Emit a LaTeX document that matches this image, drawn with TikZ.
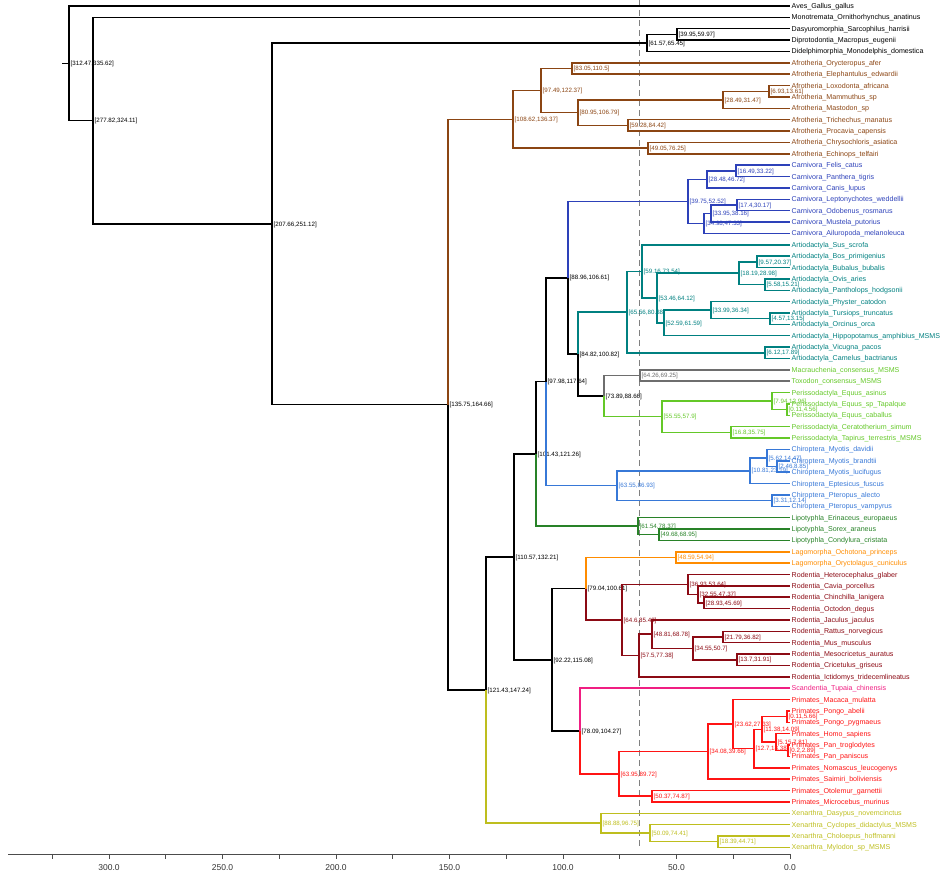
\documentclass[tikz,border=0pt]{standalone}
\usepackage{fontspec}
\setmainfont{Liberation Sans}
\usepackage{xcolor}
\usepackage{tikz}

\definecolor{afro}{RGB}{139,69,19}
\definecolor{carn}{RGB}{45,65,185}
\definecolor{artio}{RGB}{0,128,128}
\definecolor{meri}{RGB}{110,110,110}
\definecolor{peri}{RGB}{100,200,40}
\definecolor{chiro}{RGB}{55,120,215}
\definecolor{lipo}{RGB}{40,130,40}
\definecolor{lago}{RGB}{255,140,0}
\definecolor{rode}{RGB}{140,10,20}
\definecolor{scan}{RGB}{240,30,130}
\definecolor{prim}{RGB}{255,20,20}
\definecolor{xena}{RGB}{190,190,30}

\tikzset{
  branch/.style={line width=1.5pt},
  tiplabel/.style={anchor=west, inner sep=1.5pt, text height=5pt, text depth=0pt,
    font=\fontsize{7.1}{8}\selectfont},
  agelabel/.style={anchor=west, inner sep=1.5pt, text height=4.4pt, text depth=0pt,
    font=\fontsize{6.2}{7}\selectfont},
}

\begin{document}
\begin{tikzpicture}[x=1pt, y=-11.37pt]
\useasboundingbox (0,-0.5277) rectangle (946,76.5215);

% K-Pg line
\draw[gray, line width=0.9pt, dash pattern=on 6pt off 4pt] (639,-0.5) -- (639,74.2);

% tips
\node[tiplabel] (gallus) at (790,0) {Aves\_Gallus\_gallus};
\node[tiplabel] (ornitho) at (790,1) {Monotremata\_Ornithorhynchus\_anatinus};
\node[tiplabel] (sarco) at (790,2) {Dasyuromorphia\_Sarcophilus\_harrisii};
\node[tiplabel] (macropus) at (790,3) {Diprotodontia\_Macropus\_eugenii};
\node[tiplabel] (monodelphis) at (790,4) {Didelphimorphia\_Monodelphis\_domestica};
\node[tiplabel, text=afro] (orycteropus) at (790,5) {Afrotheria\_Orycteropus\_afer};
\node[tiplabel, text=afro] (elephantulus) at (790,6) {Afrotheria\_Elephantulus\_edwardii};
\node[tiplabel, text=afro] (loxodonta) at (790,7) {Afrotheria\_Loxodonta\_africana};
\node[tiplabel, text=afro] (mammuthus) at (790,8) {Afrotheria\_Mammuthus\_sp};
\node[tiplabel, text=afro] (mastodon) at (790,9) {Afrotheria\_Mastodon\_sp};
\node[tiplabel, text=afro] (trichechus) at (790,10) {Afrotheria\_Trichechus\_manatus};
\node[tiplabel, text=afro] (procavia) at (790,11) {Afrotheria\_Procavia\_capensis};
\node[tiplabel, text=afro] (chrysochloris) at (790,12) {Afrotheria\_Chrysochloris\_asiatica};
\node[tiplabel, text=afro] (echinops) at (790,13) {Afrotheria\_Echinops\_telfairi};
\node[tiplabel, text=carn] (felis) at (790,14) {Carnivora\_Felis\_catus};
\node[tiplabel, text=carn] (panthera) at (790,15) {Carnivora\_Panthera\_tigris};
\node[tiplabel, text=carn] (canis) at (790,16) {Carnivora\_Canis\_lupus};
\node[tiplabel, text=carn] (leptonychotes) at (790,17) {Carnivora\_Leptonychotes\_weddellii};
\node[tiplabel, text=carn] (odobenus) at (790,18) {Carnivora\_Odobenus\_rosmarus};
\node[tiplabel, text=carn] (mustela) at (790,19) {Carnivora\_Mustela\_putorius};
\node[tiplabel, text=carn] (ailuropoda) at (790,20) {Carnivora\_Ailuropoda\_melanoleuca};
\node[tiplabel, text=artio] (sus) at (790,21) {Artiodactyla\_Sus\_scrofa};
\node[tiplabel, text=artio] (bos) at (790,22) {Artiodactyla\_Bos\_primigenius};
\node[tiplabel, text=artio] (bubalus) at (790,23) {Artiodactyla\_Bubalus\_bubalis};
\node[tiplabel, text=artio] (ovis) at (790,24) {Artiodactyla\_Ovis\_aries};
\node[tiplabel, text=artio] (pantholops) at (790,25) {Artiodactyla\_Pantholops\_hodgsonii};
\node[tiplabel, text=artio] (physeter) at (790,26) {Artiodactyla\_Physter\_catodon};
\node[tiplabel, text=artio] (tursiops) at (790,27) {Artiodactyla\_Tursiops\_truncatus};
\node[tiplabel, text=artio] (orcinus) at (790,28) {Artiodactyla\_Orcinus\_orca};
\node[tiplabel, text=artio] (hippo) at (790,29) {Artiodactyla\_Hippopotamus\_amphibius\_MSMS};
\node[tiplabel, text=artio] (vicugna) at (790,30) {Artiodactyla\_Vicugna\_pacos};
\node[tiplabel, text=artio] (camelus) at (790,31) {Artiodactyla\_Camelus\_bactrianus};
\node[tiplabel, text=peri] (macrauchenia) at (790,32) {Macrauchenia\_consensus\_MSMS};
\node[tiplabel, text=peri] (toxodon) at (790,33) {Toxodon\_consensus\_MSMS};
\node[tiplabel, text=peri] (asinus) at (790,34) {Perissodactyla\_Equus\_asinus};
\node[tiplabel, text=peri] (tapalque) at (790,35) {Perissodactyla\_Equus\_sp\_Tapalque};
\node[tiplabel, text=peri] (caballus) at (790,36) {Perissodactyla\_Equus\_caballus};
\node[tiplabel, text=peri] (ceratotherium) at (790,37) {Perissodactyla\_Ceratotherium\_simum};
\node[tiplabel, text=peri] (tapirus) at (790,38) {Perissodactyla\_Tapirus\_terrestris\_MSMS};
\node[tiplabel, text=chiro] (davidii) at (790,39) {Chiroptera\_Myotis\_davidii};
\node[tiplabel, text=chiro] (brandtii) at (790,40) {Chiroptera\_Myotis\_brandtii};
\node[tiplabel, text=chiro] (lucifugus) at (790,41) {Chiroptera\_Myotis\_lucifugus};
\node[tiplabel, text=chiro] (eptesicus) at (790,42) {Chiroptera\_Eptesicus\_fuscus};
\node[tiplabel, text=chiro] (alecto) at (790,43) {Chiroptera\_Pteropus\_alecto};
\node[tiplabel, text=chiro] (vampyrus) at (790,44) {Chiroptera\_Pteropus\_vampyrus};
\node[tiplabel, text=lipo] (erinaceus) at (790,45) {Lipotyphla\_Erinaceus\_europaeus};
\node[tiplabel, text=lipo] (sorex) at (790,46) {Lipotyphla\_Sorex\_araneus};
\node[tiplabel, text=lipo] (condylura) at (790,47) {Lipotyphla\_Condylura\_cristata};
\node[tiplabel, text=lago] (ochotona) at (790,48) {Lagomorpha\_Ochotona\_princeps};
\node[tiplabel, text=lago] (oryctolagus) at (790,49) {Lagomorpha\_Oryctolagus\_cuniculus};
\node[tiplabel, text=rode] (heterocephalus) at (790,50) {Rodentia\_Heterocephalus\_glaber};
\node[tiplabel, text=rode] (cavia) at (790,51) {Rodentia\_Cavia\_porcellus};
\node[tiplabel, text=rode] (chinchilla) at (790,52) {Rodentia\_Chinchilla\_lanigera};
\node[tiplabel, text=rode] (octodon) at (790,53) {Rodentia\_Octodon\_degus};
\node[tiplabel, text=rode] (jaculus) at (790,54) {Rodentia\_Jaculus\_jaculus};
\node[tiplabel, text=rode] (rattus) at (790,55) {Rodentia\_Rattus\_norvegicus};
\node[tiplabel, text=rode] (mus) at (790,56) {Rodentia\_Mus\_musculus};
\node[tiplabel, text=rode] (mesocricetus) at (790,57) {Rodentia\_Mesocricetus\_auratus};
\node[tiplabel, text=rode] (cricetulus) at (790,58) {Rodentia\_Cricetulus\_griseus};
\node[tiplabel, text=rode] (ictidomys) at (790,59) {Rodentia\_Ictidomys\_tridecemlineatus};
\node[tiplabel, text=scan] (tupaia) at (790,60) {Scandentia\_Tupaia\_chinensis};
\node[tiplabel, text=prim] (macaca) at (790,61) {Primates\_Macaca\_mulatta};
\node[tiplabel, text=prim] (abelii) at (790,62) {Primates\_Pongo\_abelii};
\node[tiplabel, text=prim] (pygmaeus) at (790,63) {Primates\_Pongo\_pygmaeus};
\node[tiplabel, text=prim] (homo) at (790,64) {Primates\_Homo\_sapiens};
\node[tiplabel, text=prim] (troglodytes) at (790,65) {Primates\_Pan\_troglodytes};
\node[tiplabel, text=prim] (paniscus) at (790,66) {Primates\_Pan\_paniscus};
\node[tiplabel, text=prim] (nomascus) at (790,67) {Primates\_Nomascus\_leucogenys};
\node[tiplabel, text=prim] (saimiri) at (790,68) {Primates\_Saimiri\_boliviensis};
\node[tiplabel, text=prim] (otolemur) at (790,69) {Primates\_Otolemur\_garnettii};
\node[tiplabel, text=prim] (microcebus) at (790,70) {Primates\_Microcebus\_murinus};
\node[tiplabel, text=xena] (dasypus) at (790,71) {Xenarthra\_Dasypus\_novemcinctus};
\node[tiplabel, text=xena] (cyclopes) at (790,72) {Xenarthra\_Cyclopes\_didactylus\_MSMS};
\node[tiplabel, text=xena] (choloepus) at (790,73) {Xenarthra\_Choloepus\_hoffmanni};
\node[tiplabel, text=xena] (mylodon) at (790,74) {Xenarthra\_Mylodon\_sp\_MSMS};

% internal nodes with age intervals
\coordinate (stem) at (62,5.0396);
\node[agelabel] (root) at (69,5.0396) {[312.47,335.62]};
\node[agelabel] (mammal) at (93,10.0791) {[277.82,324.11]};
\node[agelabel] (theria) at (272,19.1583) {[207.66,251.12]};
\node[agelabel] (marsup) at (647,3.25) {[61.57,65.45]};
\node[agelabel] (australid) at (677,2.5) {[39.95,59.97]};
\node[agelabel] (plac) at (448,35.0665) {[135.75,164.66]};

\node[agelabel, text=afro] (afro) at (513,9.9688) {[108.62,136.37]};
\node[agelabel, text=afro] (afroB) at (541,7.4375) {[97.49,122.37]};
\node[agelabel, text=afro] (orycel) at (572,5.5) {[83.05,110.5]};
\node[agelabel, text=afro] (paenung) at (578,9.375) {[80.95,106.79]};
\node[agelabel, text=afro] (probosc) at (723,8.25) {[28.49,31.47]};
\node[agelabel, text=afro] (elephant) at (769,7.5) {[6.93,13.61]};
\node[agelabel, text=afro] (trich) at (628,10.5) {[59.28,84.42]};
\node[agelabel, text=afro] (afrosor) at (648,12.5) {[49.05,76.25]};

\node[agelabel] (atlant) at (486,60.1643) {[121.43,147.24]};
\node[agelabel] (boreo) at (514,48.4536) {[110.57,132.21]};
\node[agelabel] (laura) at (536,39.3975) {[101.43,121.26]};
\node[agelabel] (scrot) at (546,33.0449) {[97.98,117.64]};
\node[agelabel] (fereu) at (568,23.9023) {[88.96,106.61]};

\node[agelabel, text=carn] (carniv) at (688,17.1875) {[39.75,52.52]};
\node[agelabel, text=carn] (felcan) at (707,15.25) {[28.48,46.72]};
\node[agelabel, text=carn] (felid) at (736,14.5) {[16.49,33.22]};
\node[agelabel, text=carn] (caniform) at (704,19.125) {[34.98,47.33]};
\node[agelabel, text=carn] (mustel) at (711,18.25) {[33.95,38.16]};
\node[agelabel, text=carn] (pinn) at (737,17.5) {[17.4,30.17]};

\node[agelabel] (ungul) at (578,30.6172) {[84.82,100.82]};
\node[agelabel, text=artio] (artio) at (627,26.9219) {[65.56,80.38]};
\node[agelabel, text=artio] (artioB) at (642,23.3438) {[59.16,73.54]};
\node[agelabel, text=artio] (cetrum) at (657,25.6875) {[53.46,64.12]};
\node[agelabel, text=artio] (bovid) at (739,23.5) {[18.19,28.98]};
\node[agelabel, text=artio] (bovini) at (757,22.5) {[9.57,20.37]};
\node[agelabel, text=artio] (caprini) at (765,24.5) {[5.58,15.21]};
\node[agelabel, text=artio] (whippo) at (664,27.875) {[52.59,61.59]};
\node[agelabel, text=artio] (cetac) at (711,26.75) {[33.99,36.34]};
\node[agelabel, text=artio] (delph) at (770,27.5) {[4.57,13.15]};
\node[agelabel, text=artio] (camel) at (765,30.5) {[6.12,17.89]};

\node[agelabel] (panper) at (604,34.3125) {[73.89,88.66]};
\node[agelabel, text=meri] (meridi) at (640,32.5) {[64.26,69.25]};
\node[agelabel, text=peri] (periss) at (662,36.125) {[55.55,57.9]};
\node[agelabel, text=peri] (equus) at (772,34.75) {[7.94,12.96]};
\node[agelabel, text=peri] (equusB) at (787,35.5) {[0.11,4.56]};
\node[agelabel, text=peri] (rhino) at (731,37.5) {[16.8,35.75]};

\node[agelabel, text=chiro] (chirop) at (617,42.1875) {[63.55,86.93]};
\node[agelabel, text=chiro] (vesper) at (750,40.875) {[10.81,23.19]};
\node[agelabel, text=chiro] (myotis) at (767,39.75) {[5.62,14.47]};
\node[agelabel, text=chiro] (myotisB) at (777,40.5) {[2.46,8.85]};
\node[agelabel, text=chiro] (pterop) at (772,43.5) {[3.31,12.14]};

\node[agelabel, text=lipo] (lipot) at (638,45.75) {[61.54,78.37]};
\node[agelabel, text=lipo] (soric) at (659,46.5) {[49.68,68.95]};

\node[agelabel] (euarch) at (552,57.5098) {[92.22,115.08]};
\node[agelabel] (glires) at (586,51.25) {[79.04,100.61]};
\node[agelabel, text=lago] (lagom) at (676,48.5) {[48.59,54.94]};
\node[agelabel, text=rode] (roden) at (622,54) {[64.6,85.48]};
\node[agelabel, text=rode] (hystric) at (688,50.875) {[36.93,53.64]};
\node[agelabel, text=rode] (caviom) at (698,51.75) {[32.55,47.37]};
\node[agelabel, text=rode] (octod) at (704,52.5) {[28.93,45.69]};
\node[agelabel, text=rode] (myomor) at (639,57.125) {[57.5,77.38]};
\node[agelabel, text=rode] (muroid) at (652,55.25) {[48.81,68.78]};
\node[agelabel, text=rode] (murid) at (693,56.5) {[34.55,50.7]};
\node[agelabel, text=rode] (murinae) at (723,55.5) {[21.79,36.82]};
\node[agelabel, text=rode] (cricet) at (737,57.5) {[13.7,31.91]};

\node[agelabel] (euarc) at (580,63.7695) {[78.09,104.27]};
\node[agelabel, text=prim] (prim) at (619,67.5391) {[63.95,89.72]};
\node[agelabel, text=prim] (haplo) at (708,65.5781) {[34.08,39.66]};
\node[agelabel, text=prim] (catarr) at (733,63.1563) {[23.62,27.33]};
\node[agelabel, text=prim] (homoid) at (754,65.3125) {[12.7,18.38]};
\node[agelabel, text=prim] (homid) at (762,63.625) {[11.38,14.09]};
\node[agelabel, text=prim] (pongo) at (787,62.5) {[0.11,5.66]};
\node[agelabel, text=prim] (homin) at (776,64.75) {[5.15,7.81]};
\node[agelabel, text=prim] (pan) at (788,65.5) {[0.2,2.89]};
\node[agelabel, text=prim] (strep) at (652,69.5) {[50.37,74.87]};

\node[agelabel, text=xena] (xenar) at (601,71.875) {[88.88,96.75]};
\node[agelabel, text=xena] (pilosa) at (650,72.75) {[50.09,74.41]};
\node[agelabel, text=xena] (folivor) at (718,73.5) {[18.39,44.71]};

% branches
\draw[branch] (stem) -- (root.west);
\draw[branch] (root.west) |- (gallus.west) (root.west) |- (mammal.west);
\draw[branch] (mammal.west) |- (ornitho.west) (mammal.west) |- (theria.west);
\draw[branch] (theria.west) |- (marsup.west) (theria.west) |- (plac.west);
\draw[branch] (marsup.west) |- (australid.west) (marsup.west) |- (monodelphis.west);
\draw[branch] (australid.west) |- (sarco.west) (australid.west) |- (macropus.west);
\draw[branch, afro] (plac.west) |- (afro.west);
\draw[branch] (plac.west) |- (atlant.west);

\draw[branch, afro] (afro.west) |- (afroB.west) (afro.west) |- (afrosor.west);
\draw[branch, afro] (afroB.west) |- (orycel.west) (afroB.west) |- (paenung.west);
\draw[branch, afro] (orycel.west) |- (orycteropus.west) (orycel.west) |- (elephantulus.west);
\draw[branch, afro] (paenung.west) |- (probosc.west) (paenung.west) |- (trich.west);
\draw[branch, afro] (probosc.west) |- (elephant.west) (probosc.west) |- (mastodon.west);
\draw[branch, afro] (elephant.west) |- (loxodonta.west) (elephant.west) |- (mammuthus.west);
\draw[branch, afro] (trich.west) |- (trichechus.west) (trich.west) |- (procavia.west);
\draw[branch, afro] (afrosor.west) |- (chrysochloris.west) (afrosor.west) |- (echinops.west);

\draw[branch] (atlant.west) |- (boreo.west);
\draw[branch, xena] (atlant.west) |- (xenar.west);
\draw[branch] (boreo.west) |- (laura.west) (boreo.west) |- (euarch.west);
\draw[branch] (laura.west) |- (scrot.west);
\draw[branch, lipo] (laura.west) |- (lipot.west);
\draw[branch] (scrot.west) |- (fereu.west);
\draw[branch, chiro] (scrot.west) |- (chirop.west);
\draw[branch, carn] (fereu.west) |- (carniv.west);
\draw[branch] (fereu.west) |- (ungul.west);

\draw[branch, carn] (carniv.west) |- (felcan.west) (carniv.west) |- (caniform.west);
\draw[branch, carn] (felcan.west) |- (felid.west) (felcan.west) |- (canis.west);
\draw[branch, carn] (felid.west) |- (felis.west) (felid.west) |- (panthera.west);
\draw[branch, carn] (caniform.west) |- (mustel.west) (caniform.west) |- (ailuropoda.west);
\draw[branch, carn] (mustel.west) |- (pinn.west) (mustel.west) |- (mustela.west);
\draw[branch, carn] (pinn.west) |- (leptonychotes.west) (pinn.west) |- (odobenus.west);

\draw[branch, artio] (ungul.west) |- (artio.west);
\draw[branch] (ungul.west) |- (panper.west);
\draw[branch, artio] (artio.west) |- (artioB.west) (artio.west) |- (camel.west);
\draw[branch, artio] (artioB.west) |- (sus.west) (artioB.west) |- (cetrum.west);
\draw[branch, artio] (cetrum.west) |- (bovid.west) (cetrum.west) |- (whippo.west);
\draw[branch, artio] (bovid.west) |- (bovini.west) (bovid.west) |- (caprini.west);
\draw[branch, artio] (bovini.west) |- (bos.west) (bovini.west) |- (bubalus.west);
\draw[branch, artio] (caprini.west) |- (ovis.west) (caprini.west) |- (pantholops.west);
\draw[branch, artio] (whippo.west) |- (cetac.west) (whippo.west) |- (hippo.west);
\draw[branch, artio] (cetac.west) |- (physeter.west) (cetac.west) |- (delph.west);
\draw[branch, artio] (delph.west) |- (tursiops.west) (delph.west) |- (orcinus.west);
\draw[branch, artio] (camel.west) |- (vicugna.west) (camel.west) |- (camelus.west);

\draw[branch, meri] (panper.west) |- (meridi.west);
\draw[branch, peri] (panper.west) |- (periss.west);
\draw[branch, meri] (meridi.west) |- (macrauchenia.west) (meridi.west) |- (toxodon.west);
\draw[branch, peri] (periss.west) |- (equus.west) (periss.west) |- (rhino.west);
\draw[branch, peri] (equus.west) |- (asinus.west) (equus.west) |- (equusB.west);
\draw[branch, peri] (equusB.west) |- (tapalque.west) (equusB.west) |- (caballus.west);
\draw[branch, peri] (rhino.west) |- (ceratotherium.west) (rhino.west) |- (tapirus.west);

\draw[branch, chiro] (chirop.west) |- (vesper.west) (chirop.west) |- (pterop.west);
\draw[branch, chiro] (vesper.west) |- (myotis.west) (vesper.west) |- (eptesicus.west);
\draw[branch, chiro] (myotis.west) |- (davidii.west) (myotis.west) |- (myotisB.west);
\draw[branch, chiro] (myotisB.west) |- (brandtii.west) (myotisB.west) |- (lucifugus.west);
\draw[branch, chiro] (pterop.west) |- (alecto.west) (pterop.west) |- (vampyrus.west);

\draw[branch, lipo] (lipot.west) |- (erinaceus.west) (lipot.west) |- (soric.west);
\draw[branch, lipo] (soric.west) |- (sorex.west) (soric.west) |- (condylura.west);

\draw[branch] (euarch.west) |- (glires.west) (euarch.west) |- (euarc.west);
\draw[branch, lago] (glires.west) |- (lagom.west);
\draw[branch, rode] (glires.west) |- (roden.west);
\draw[branch, lago] (lagom.west) |- (ochotona.west) (lagom.west) |- (oryctolagus.west);
\draw[branch, rode] (roden.west) |- (hystric.west) (roden.west) |- (myomor.west);
\draw[branch, rode] (hystric.west) |- (heterocephalus.west) (hystric.west) |- (caviom.west);
\draw[branch, rode] (caviom.west) |- (cavia.west) (caviom.west) |- (octod.west);
\draw[branch, rode] (octod.west) |- (chinchilla.west) (octod.west) |- (octodon.west);
\draw[branch, rode] (myomor.west) |- (muroid.west) (myomor.west) |- (ictidomys.west);
\draw[branch, rode] (muroid.west) |- (jaculus.west) (muroid.west) |- (murid.west);
\draw[branch, rode] (murid.west) |- (murinae.west) (murid.west) |- (cricet.west);
\draw[branch, rode] (murinae.west) |- (rattus.west) (murinae.west) |- (mus.west);
\draw[branch, rode] (cricet.west) |- (mesocricetus.west) (cricet.west) |- (cricetulus.west);

\draw[branch, scan] (euarc.west) |- (tupaia.west);
\draw[branch, prim] (euarc.west) |- (prim.west);
\draw[branch, prim] (prim.west) |- (haplo.west) (prim.west) |- (strep.west);
\draw[branch, prim] (haplo.west) |- (catarr.west) (haplo.west) |- (saimiri.west);
\draw[branch, prim] (catarr.west) |- (macaca.west) (catarr.west) |- (homoid.west);
\draw[branch, prim] (homoid.west) |- (homid.west) (homoid.west) |- (nomascus.west);
\draw[branch, prim] (homid.west) |- (pongo.west) (homid.west) |- (homin.west);
\draw[branch, prim] (pongo.west) |- (abelii.west) (pongo.west) |- (pygmaeus.west);
\draw[branch, prim] (homin.west) |- (homo.west) (homin.west) |- (pan.west);
\draw[branch, prim] (pan.west) |- (troglodytes.west) (pan.west) |- (paniscus.west);
\draw[branch, prim] (strep.west) |- (otolemur.west) (strep.west) |- (microcebus.west);

\draw[branch, xena] (xenar.west) |- (dasypus.west) (xenar.west) |- (pilosa.west);
\draw[branch, xena] (pilosa.west) |- (cyclopes.west) (pilosa.west) |- (folivor.west);
\draw[branch, xena] (folivor.west) |- (choloepus.west) (folivor.west) |- (mylodon.west);

% time axis
\draw[black!70, line width=0.9pt] (8,74.58) -- (790,74.58);
\foreach \a in {0,50,...,300} {
  \draw[black!70, line width=0.8pt] ({790-2.27*\a},74.58) -- ({790-2.27*\a},75.02);
  \node[font=\fontsize{8.5}{10}\selectfont, text=black!80] at ({790-2.27*\a},75.75) {\a.0};
}
\foreach \a in {25,75,...,325}
  \draw[black!70, line width=0.8pt] ({790-2.27*\a},74.58) -- ({790-2.27*\a},75.02);

\end{tikzpicture}
\end{document}
